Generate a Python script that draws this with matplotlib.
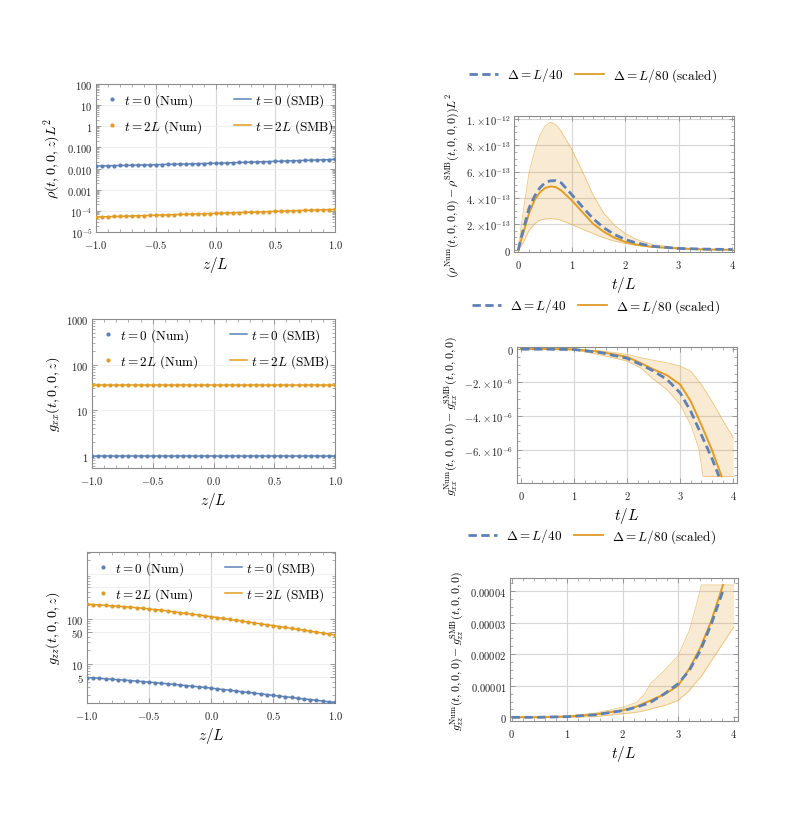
import numpy as np
import matplotlib
matplotlib.use("Agg")
import matplotlib.pyplot as plt
from matplotlib.ticker import FixedLocator, FixedFormatter, AutoMinorLocator, LogLocator, NullFormatter

plt.rcParams['mathtext.fontset'] = 'cm'
plt.rcParams['font.family'] = ['DejaVu Serif']

BLUE = '#5E81B5'
ORANGE = '#E19C24'
FRAME = '#8c8c8c'
GRID = '#d6d6d6'

# ---- left column: profiles along z ----
z = [-1.00, -0.95, -0.90, -0.85, -0.80, -0.75, -0.70, -0.65, -0.60, -0.55,
     -0.50, -0.45, -0.40, -0.35, -0.30, -0.25, -0.20, -0.15, -0.10, -0.05,
     0.00, 0.05, 0.10, 0.15, 0.20, 0.25, 0.30, 0.35, 0.40, 0.45,
     0.50, 0.55, 0.60, 0.65, 0.70, 0.75, 0.80, 0.85, 0.90, 0.95, 1.00]

rho_t0 = [0.0132, 0.0134, 0.0136, 0.0138, 0.0140, 0.0142, 0.0144, 0.0146, 0.0148, 0.0150,
          0.0153, 0.0155, 0.0158, 0.0160, 0.0163, 0.0165, 0.0168, 0.0170, 0.0173, 0.0176,
          0.0178, 0.0182, 0.0186, 0.0190, 0.0194, 0.0198, 0.0202, 0.0206, 0.0211, 0.0215,
          0.0220, 0.0224, 0.0229, 0.0234, 0.0239, 0.0244, 0.0249, 0.0254, 0.0259, 0.0265, 0.0270]
rho_t2 = [5.10e-5, 5.20e-5, 5.31e-5, 5.42e-5, 5.52e-5, 5.64e-5, 5.75e-5, 5.87e-5, 5.98e-5, 6.10e-5,
          6.23e-5, 6.35e-5, 6.48e-5, 6.61e-5, 6.75e-5, 6.88e-5, 7.02e-5, 7.16e-5, 7.31e-5, 7.45e-5,
          7.60e-5, 7.77e-5, 7.94e-5, 8.12e-5, 8.30e-5, 8.48e-5, 8.67e-5, 8.86e-5, 9.06e-5, 9.26e-5,
          9.47e-5, 9.68e-5, 9.89e-5, 1.011e-4, 1.034e-4, 1.057e-4, 1.080e-4, 1.104e-4, 1.129e-4, 1.154e-4, 1.180e-4]

gxx_t0 = [1.0] * 41
gxx_t2 = [35.7] * 41

gzz_t0 = [4.95, 4.85, 4.74, 4.63, 4.53, 4.43, 4.33, 4.22, 4.12, 4.02,
          3.92, 3.81, 3.70, 3.59, 3.48, 3.37, 3.27, 3.17, 3.07, 2.97,
          2.88, 2.77, 2.67, 2.58, 2.48, 2.39, 2.30, 2.22, 2.14, 2.06,
          1.98, 1.91, 1.85, 1.78, 1.71, 1.65, 1.60, 1.54, 1.48, 1.43, 1.38]
gzz_t2 = [212, 208, 204, 200, 195, 191, 187, 182, 177, 172,
          167, 161, 156, 150, 144, 138, 132, 127, 122, 117,
          112, 107, 102, 97.5, 93.1, 89.1, 85.1, 81.3, 77.6, 74.1,
          71.0, 67.6, 64.4, 61.4, 58.6, 55.8, 53.2, 50.7, 48.3, 46.1, 44.0]

# ---- right column: differences vs t ----
t_rho = [0, 0.05, 0.1, 0.2, 0.3, 0.4, 0.5, 0.6, 0.7, 0.8, 1.0, 1.2, 1.4, 1.6, 1.8, 2.0, 2.2, 2.5, 3.0, 3.5, 4.0]
rho_L40 = [0, 0.9, 1.65, 3.2, 4.1, 4.75, 5.15, 5.3, 5.31, 5.15, 4.24, 3.3, 2.4, 1.7, 1.19, 0.81, 0.56, 0.3, 0.13, 0.08, 0.05]
rho_L80 = [0, 0.75, 1.4, 2.8, 3.8, 4.4, 4.75, 4.87, 4.82, 4.57, 3.8, 2.9, 2.0, 1.4, 0.94, 0.63, 0.43, 0.25, 0.13, 0.05, 0.03]
rho_hi = [0, 1.7, 3.2, 5.9, 7.5, 8.75, 9.5, 9.77, 9.6, 9.1, 7.7, 6.0, 4.2, 2.8, 1.9, 1.27, 0.84, 0.43, 0.18, 0.08, 0.05]
rho_lo = [0, 0.3, 0.63, 1.5, 2.0, 2.28, 2.38, 2.41, 2.38, 2.28, 1.95, 1.6, 1.27, 0.94, 0.69, 0.51, 0.36, 0.23, 0.1, 0.05, 0.03]

t_gxx_a = [0, 0.5, 1.0, 1.5, 2.0, 2.25, 2.5, 2.75, 3.0, 3.2, 3.4, 3.6, 3.73]
gxx_L40 = [-0.04, -0.04, -0.06, -0.24, -0.58, -0.94, -1.34, -1.83, -2.63, -3.73, -5.12, -6.52, -7.57]
t_gxx_b = [0, 0.5, 1.0, 1.5, 2.0, 2.25, 2.5, 2.75, 3.0, 3.2, 3.4, 3.6, 3.78]
gxx_L80 = [-0.02, -0.03, -0.05, -0.2, -0.5, -0.85, -1.24, -1.58, -2.13, -3.13, -4.53, -6.02, -7.57]
t_gxx_band = [0, 0.5, 1.0, 1.5, 2.0, 2.25, 2.5, 2.75, 3.0, 3.2, 3.35, 3.43, 3.6, 3.8, 4.0]
gxx_hi = [0, -0.01, -0.04, -0.14, -0.34, -0.54, -0.7, -0.84, -1.04, -1.34, -1.93, -2.28, -3.13, -4.23, -5.28]
gxx_lo = [-0.04, -0.06, -0.08, -0.38, -0.74, -1.14, -1.83, -2.43, -3.33, -4.53, -5.92, -7.57, -7.57, -7.57, -7.57]

t_gzz_a = [0, 0.5, 1.0, 1.5, 2.0, 2.25, 2.5, 2.75, 3.0, 3.2, 3.4, 3.6, 3.8, 3.83]
gzz_L40 = [0, 0.0, 0.02, 0.08, 0.21, 0.32, 0.47, 0.74, 1.06, 1.48, 2.11, 2.96, 3.96, 4.06]
t_gzz_b = [0, 0.5, 1.0, 1.5, 2.0, 2.25, 2.5, 2.6, 2.75, 3.0, 3.2, 3.4, 3.6, 3.81]
gzz_L80 = [0, 0.0, 0.02, 0.09, 0.22, 0.34, 0.53, 0.61, 0.72, 1.0, 1.53, 2.2, 3.06, 4.19]
t_gzz_band = [0, 0.5, 1.0, 1.5, 2.0, 2.25, 2.4, 2.5, 2.75, 3.0, 3.2, 3.35, 3.42, 3.6, 3.8, 4.0]
gzz_hi = [0.02, 0.03, 0.05, 0.13, 0.32, 0.47, 0.74, 1.06, 1.48, 1.95, 2.74, 3.69, 4.19, 4.19, 4.19, 4.19]
gzz_lo = [0, 0, 0, 0.02, 0.11, 0.16, 0.21, 0.26, 0.37, 0.53, 0.84, 1.17, 1.3, 1.79, 2.32, 2.85]

W, H = 789, 820
fig = plt.figure(figsize=(W / 100, H / 100), dpi=100)


def box(l, r, top, bot):
    return fig.add_axes([l / W, 1 - bot / H, (r - l) / W, (bot - top) / H])


def style(ax):
    for s in ax.spines.values():
        s.set_color(FRAME)
        s.set_linewidth(0.8)
    ax.tick_params(which='both', direction='in', top=True, right=True, color=FRAME,
                   labelsize=7.6, labelcolor='#222222')
    ax.tick_params(axis='y', pad=2.5)
    ax.tick_params(axis='x', pad=4)
    ax.tick_params(which='major', length=3.5, width=0.6)
    ax.tick_params(which='minor', length=2, width=0.5)
    ax.set_axisbelow(True)


def math_labels(ax, axis, vals, texts):
    a = ax.xaxis if axis == 'x' else ax.yaxis
    a.set_major_locator(FixedLocator(vals))
    a.set_major_formatter(FixedFormatter(['$' + s + '$' for s in texts]))


MS = 3.0


def left_panel(ax, y0, y2, ylabel, ylim, yt, ytl, ygrid):
    style(ax)
    ax.set_yscale('log')
    ax.set_xlim(-1, 1)
    ax.set_ylim(*ylim)
    for g in [-0.5, 0, 0.5]:
        ax.axvline(g, color=GRID, lw=0.8, zorder=0)
    for g in ygrid:
        ax.axhline(g, color='#efefef', lw=0.8, zorder=0)
    ax.plot(z, y0, color=BLUE, lw=1.1, zorder=2)
    ax.plot(z, y2, color=ORANGE, lw=1.1, zorder=2)
    ax.plot(z, y0, ls='none', marker='o', ms=MS, mew=0, color=BLUE, zorder=3)
    ax.plot(z, y2, ls='none', marker='o', ms=MS, mew=0, color=ORANGE, zorder=3)
    math_labels(ax, 'x', [-1, -0.5, 0, 0.5, 1], [r'-1.0', r'-0.5', '0.0', '0.5', '1.0'])
    ax.xaxis.set_minor_locator(AutoMinorLocator(5))
    math_labels(ax, 'y', yt, ytl)
    ax.yaxis.set_minor_locator(LogLocator(base=10, subs=np.arange(2, 10), numticks=20))
    ax.yaxis.set_minor_formatter(NullFormatter())
    ax.set_xlabel(r'$z/L$', fontsize=11, labelpad=3)
    ax.set_ylabel(ylabel, fontsize=10.2, labelpad=3)
    h = [
        plt.Line2D([], [], ls='none', marker='o', ms=MS, mew=0, color=BLUE),
        plt.Line2D([], [], ls='none', marker='o', ms=MS, mew=0, color=ORANGE),
        plt.Line2D([], [], color=BLUE, lw=1.1),
        plt.Line2D([], [], color=ORANGE, lw=1.1),
    ]
    lab = [r'$t=0\ (\mathrm{Num})$', r'$t=2L\ (\mathrm{Num})$',
           r'$t=0\ (\mathrm{SMB})$', r'$t=2L\ (\mathrm{SMB})$']
    ax.legend(h, lab, ncol=2, loc='upper left', frameon=False, fontsize=9.5,
              handlelength=1.3, handletextpad=0.3, columnspacing=2.4,
              labelspacing=0.6, borderaxespad=0.25, borderpad=0.3, numpoints=1)


def right_panel(ax, ylabel, xlim, ylim, yt, ytl):
    style(ax)
    ax.set_xlim(*xlim)
    ax.set_ylim(*ylim)
    for g in [1, 2, 3]:
        ax.axvline(g, color=GRID, lw=0.8, zorder=0)
    for g in yt:
        if ylim[0] < g < ylim[1] and g != 0:
            ax.axhline(g, color=GRID, lw=0.8, zorder=0)
    math_labels(ax, 'x', [0, 1, 2, 3, 4], ['0', '1', '2', '3', '4'])
    ax.xaxis.set_minor_locator(AutoMinorLocator(5))
    math_labels(ax, 'y', yt, ytl)
    ax.yaxis.set_minor_locator(AutoMinorLocator(4))
    ax.set_xlabel(r'$t/L$', fontsize=11, labelpad=3)
    ax.set_ylabel(ylabel, fontsize=8.6, labelpad=3)
    h = [plt.Line2D([], [], color=BLUE, lw=2.0, ls=(0, (3, 1.6))),
         plt.Line2D([], [], color=ORANGE, lw=1.3)]
    ax.legend(h, [r'$\Delta = L/40$', r'$\Delta = L/80\ (\mathrm{scaled})$'], ncol=2,
              loc='lower center', bbox_to_anchor=(0.36, 1.15), frameon=False, fontsize=9.5,
              handlelength=2.2, handletextpad=0.7, columnspacing=0.9)


def draw_diff(ax, tb, lo, hi, ta, a, tbb, b, scale):
    ax.fill_between(tb, np.array(lo) * scale, np.array(hi) * scale, color=ORANGE, alpha=0.2,
                    lw=0, zorder=1)
    ax.plot(tb, np.array(hi) * scale, color=ORANGE, lw=0.6, alpha=0.55, zorder=1)
    ax.plot(tb, np.array(lo) * scale, color=ORANGE, lw=0.6, alpha=0.55, zorder=1)
    ax.plot(tbb, np.array(b) * scale, color=ORANGE, lw=1.4, zorder=2)
    ax.plot(ta, np.array(a) * scale, color=BLUE, lw=2.0, ls=(0, (3, 1.6)), zorder=3)


# rho
ax1 = box(96, 335, 85, 233)
left_panel(ax1, rho_t0, rho_t2, r'$\rho(t,0,0,z)L^2$', (1e-5, 100),
           [1e-5, 1e-4, 1e-3, 1e-2, 1e-1, 1, 10, 100],
           [r'10^{-5}', r'10^{-4}', '0.001', '0.010', '0.100', '1', '10', '100'],
           [1e-4, 1e-3, 1e-2, 1e-1, 1, 10])

# gxx
ax3 = box(92, 335, 320, 469)
left_panel(ax3, gxx_t0, gxx_t2, r'$g_{xx}(t,0,0,z)$', (0.537, 1000),
           [1, 10, 100, 1000], ['1', '10', '100', '1000'], [1, 10, 100])

# gzz
ax5 = box(87, 335, 553, 704)
left_panel(ax5, gzz_t0, gzz_t2, r'$g_{zz}(t,0,0,z)$', (1.34, 3080),
           [5, 10, 50, 100], ['5', '10', '50', '100'], [5, 10, 50, 100, 500, 1000])

# rho diff
ax2 = box(514, 734, 117, 253)
draw_diff(ax2, t_rho, rho_lo, rho_hi, t_rho, rho_L40, t_rho, rho_L80, 1e-13)
right_panel(ax2, r'$(\rho^{\mathrm{Num}}(t,0,0,0)-\rho^{\mathrm{SMB}}(t,0,0,0))L^2$',
            (-0.08, 4.03), (-1.4e-14, 1.025e-12),
            [0, 2e-13, 4e-13, 6e-13, 8e-13, 1e-12],
            ['0', r'2.\!\times\! 10^{-13}', r'4.\!\times\! 10^{-13}', r'6.\!\times\! 10^{-13}',
             r'8.\!\times\! 10^{-13}', r'1.\!\times\! 10^{-12}'])

# gxx diff
ax4 = box(517, 737, 348, 484)
draw_diff(ax4, t_gxx_band, gxx_lo, gxx_hi, t_gxx_a, gxx_L40, t_gxx_b, gxx_L80, 1e-6)
right_panel(ax4, r'$g_{xx}^{\mathrm{Num}}(t,0,0,0)-g_{xx}^{\mathrm{SMB}}(t,0,0,0)$',
            (-0.075, 4.07), (-7.96e-6, 0.09e-6),
            [-6e-6, -4e-6, -2e-6, 0],
            [r'-6.\!\times\! 10^{-6}', r'-4.\!\times\! 10^{-6}', r'-2.\!\times\! 10^{-6}', '0'])

# gzz diff
ax6 = box(510, 738, 579, 722)
draw_diff(ax6, t_gzz_band, gzz_lo, gzz_hi, t_gzz_a, gzz_L40, t_gzz_b, gzz_L80, 1e-5)
right_panel(ax6, r'$g_{zz}^{\mathrm{Num}}(t,0,0,0)-g_{zz}^{\mathrm{SMB}}(t,0,0,0)$',
            (-0.03, 4.08), (-0.117e-5, 4.41e-5),
            [0, 1e-5, 2e-5, 3e-5, 4e-5],
            ['0', '0.00001', '0.00002', '0.00003', '0.00004'])

fig.savefig('out.png', dpi=100)
